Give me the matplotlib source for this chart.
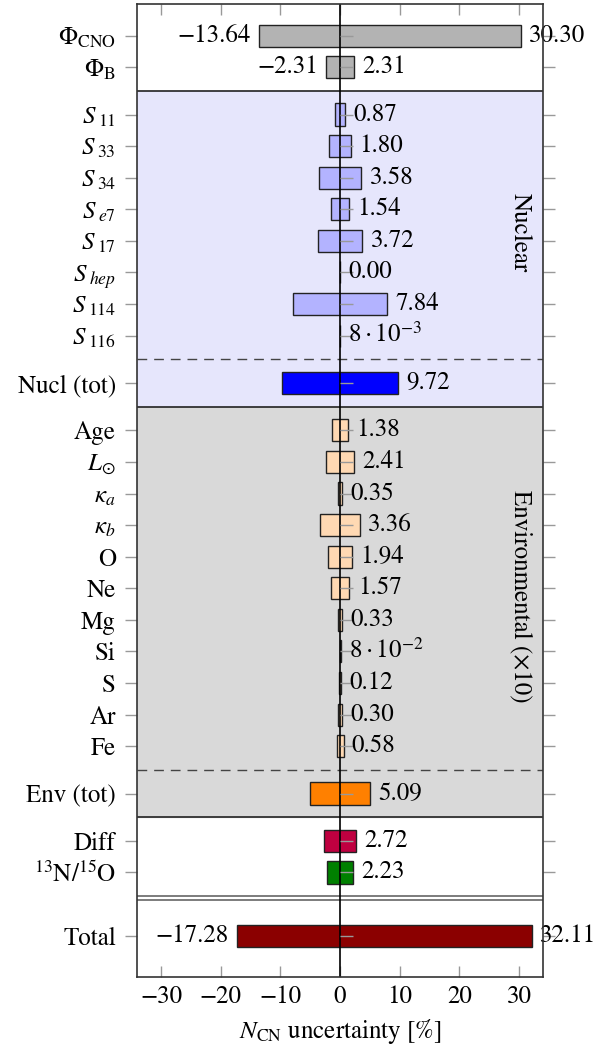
import numpy as np
import matplotlib.pyplot as plt

plt.rcParams['font.family'] = 'STIXGeneral'
plt.rcParams['mathtext.fontset'] = 'stix'
plt.rcParams['font.size'] = 18

# --- data
labels = [r'$\Phi_{\mathrm{CNO}}$', r'$\Phi_{\mathrm{B}}$',
          r'$S_{\;11}$', r'$S_{\;33}$', r'$S_{\;34}$', r'$S_{\;e7}$', r'$S_{\;17}$',
          r'$S_{\;hep}$', r'$S_{\;114}$', r'$S_{\;116}$', 'Nucl (tot)',
          'Age', r'$L_{\odot}$', r'$\kappa_a$', r'$\kappa_b$', 'O', 'Ne', 'Mg',
          'Si', 'S', 'Ar', 'Fe', 'Env (tot)',
          'Diff', r'$^{13}$N/$^{15}$O', 'Total']
ypos = [0, 1,
        2.5, 3.5, 4.5, 5.5, 6.5, 7.5, 8.5, 9.5, 11,
        12.5, 13.5, 14.5, 15.5, 16.5, 17.5, 18.5, 19.5, 20.5, 21.5, 22.5, 24,
        25.5, 26.5, 28.5]
upper = [30.30, 2.31,
         0.87, 1.80, 3.58, 1.54, 3.72, 0.00, 7.84, 0.008, 9.72,
         1.38, 2.41, 0.35, 3.36, 1.94, 1.57, 0.33, 0.08, 0.12, 0.30, 0.58, 5.09,
         2.72, 2.23, 32.11]
lower = [-13.64, -2.31,
         -0.87, -1.80, -3.58, -1.54, -3.72, 0.00, -7.84, -0.008, -9.72,
         -1.38, -2.41, -0.35, -3.36, -1.94, -1.57, -0.33, -0.08, -0.12, -0.30, -0.58, -5.09,
         -2.72, -2.23, -17.28]
upper_text = ['30.30', '2.31',
              '0.87', '1.80', '3.58', '1.54', '3.72', '0.00', '7.84', r'$8\cdot10^{-3}$', '9.72',
              '1.38', '2.41', '0.35', '3.36', '1.94', '1.57', '0.33', r'$8\cdot10^{-2}$', '0.12',
              '0.30', '0.58', '5.09',
              '2.72', '2.23', '32.11']
lower_text = {0: '\u221213.64', 1: '\u22122.31', 25: '\u221217.28'}
bar_colors = (['#b3b3b3'] * 2 + ['#b3b3ff'] * 8 + ['#0000ff']
              + ['#ffd9b3'] * 11 + ['#ff8000'] + ['#bf0040', '#008000', '#8b0000'])

fig = plt.figure(figsize=(6.13, 10.5), dpi=100)
ax = fig.add_axes([0.224, 0.0698, 0.6615, 0.9264])

# section shading
ax.axhspan(1.75, 11.75, color='#e6e6fc', zorder=0)
ax.axhspan(11.75, 24.75, color='#d9d9d9', zorder=0)
for yl in [1.75, 11.75, 24.75]:
    ax.axhline(yl, color='#222222', lw=1.2, zorder=1)
for yl in [27.25, 27.37]:
    ax.axhline(yl, color='#666666', lw=1.2, zorder=1)
for yl in [10.25, 23.25]:
    ax.axhline(yl, color='#444444', lw=1.0, dashes=(7, 5), zorder=1)

widths = np.array(upper) - np.array(lower)
ax.barh(ypos, widths, left=lower, height=0.7, color=bar_colors,
        edgecolor='#222222', linewidth=1.0, zorder=2)
ax.axvline(0, color='black', lw=1.2, zorder=3)
# small tick marks along the zero line
ax.plot(np.zeros(len(ypos)), ypos, linestyle='none', marker=1, ms=9,
        mew=1, mec='#999999', zorder=3.5)

for i, (y, u, t) in enumerate(zip(ypos, upper, upper_text)):
    ax.annotate(t, (u, y), xytext=(6, 0), textcoords='offset points',
                ha='left', va='center', clip_on=False, zorder=4)
    if i in lower_text:
        ax.annotate(lower_text[i], (lower[i], y), xytext=(-6, 0), textcoords='offset points',
                    ha='right', va='center', zorder=4)

ax.text(30.2, 6.25, 'Nuclear', rotation=-90, ha='center', va='center')
ax.text(30.2, 17.75, 'Environmental (\u00d710)', rotation=-90, ha='center', va='center')

ax.set_xlim(-34, 34)
ax.set_ylim(29.8, -1)
ax.set_yticks(ypos, labels)
ax.set_xticks([-30, -20, -10, 0, 10, 20, 30])
ax.set_xticklabels(['\u221230', '\u221220', '\u221210', '0', '10', '20', '30'])
ax.tick_params(axis='y', direction='out', length=8.5, width=1, color='#999999',
               left=True, right=True, pad=7)
ax.tick_params(axis='x', direction='in', length=8, width=1, color='#999999',
               top=True, bottom=True, pad=6)
for sp in ax.spines.values():
    sp.set_color('#333333')
    sp.set_linewidth(1.2)
    sp.set_zorder(5)

ax.set_xlabel(r'$N_{\mathrm{CN}}$ uncertainty [%]', labelpad=6)

fig.savefig('out.png', dpi=100)
